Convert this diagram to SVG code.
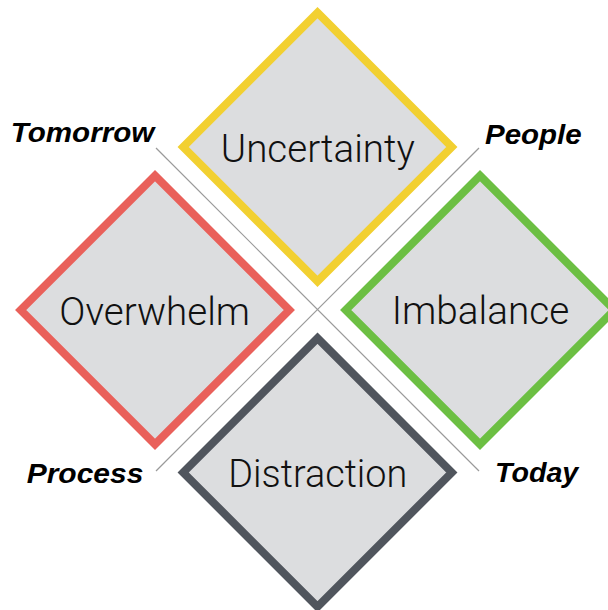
<svg xmlns="http://www.w3.org/2000/svg" width="608" height="610" viewBox="0 0 608 610">
<style>
.d{fill:#dcdddf;stroke-width:8;stroke-linejoin:miter}
.t{font-family:Roboto,"Liberation Sans",sans-serif;font-weight:300;font-size:39px;fill:#111;text-anchor:middle}
.l{font-family:"Liberation Sans",Arial,sans-serif;font-weight:bold;font-style:italic;font-size:28px;fill:#000}
.c{stroke:#9a9a9a;stroke-width:1.2;fill:none}
</style>
<rect width="608" height="610" fill="#fff"/>
<g id="connectors">
<line class="c" x1="156" y1="148" x2="479" y2="471"/>
<line class="c" x1="479" y1="148" x2="156" y2="471"/>
</g>
<g id="uncertainty">
<polygon class="d" stroke="#f2d031" points="317.5,12.7 451.8,147 317.5,281.3 183.2,147"/>
<text class="t" x="317.8" y="161.7" textLength="194" lengthAdjust="spacingAndGlyphs">Uncertainty</text>
</g>
<g id="overwhelm">
<polygon class="d" stroke="#e9605a" points="155,175.7 289.3,310 155,444.3 20.7,310"/>
<text class="t" x="154.7" y="325" textLength="190.7" lengthAdjust="spacingAndGlyphs">Overwhelm</text>
</g>
<g id="imbalance">
<polygon class="d" stroke="#6cbf43" points="480,175.7 614.3,310 480,444.3 345.7,310"/>
<text class="t" x="480.5" y="323.8" textLength="177.6" lengthAdjust="spacingAndGlyphs">Imbalance</text>
</g>
<g id="distraction">
<polygon class="d" stroke="#50555d" points="317.5,338.2 451.8,472.5 317.5,606.8 183.2,472.5"/>
<text class="t" x="317.8" y="486.5" textLength="179" lengthAdjust="spacingAndGlyphs">Distraction</text>
</g>
<g id="labels">
<text class="l" x="10.7" y="142.3" textLength="143.6" lengthAdjust="spacingAndGlyphs">Tomorrow</text>
<text class="l" x="485" y="144.3" textLength="96.7" lengthAdjust="spacingAndGlyphs">People</text>
<text class="l" x="26.7" y="483.3" textLength="116.7" lengthAdjust="spacingAndGlyphs">Process</text>
<text class="l" x="495" y="481.7" textLength="83.3" lengthAdjust="spacingAndGlyphs">Today</text>
</g>
</svg>
